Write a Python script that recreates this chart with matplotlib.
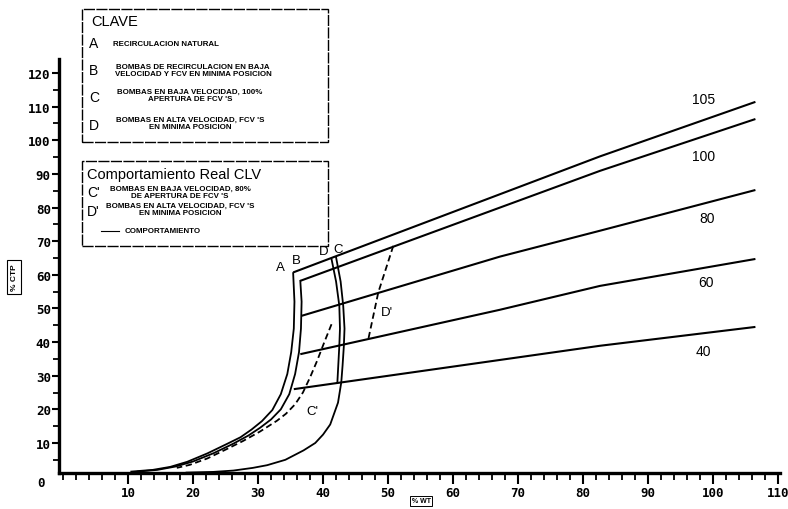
import numpy as np
import matplotlib
matplotlib.use("Agg")
import matplotlib.pyplot as plt
import matplotlib.patches as patches
from matplotlib.lines import Line2D

# rod lines (% rod line)
line_105_x = [35.4, 82.6, 106.5]
line_105_y = [60.7, 95.2, 111.4]
line_100_x = [36.5, 82.6, 106.5]
line_100_y = [58.2, 90.9, 106.3]
line_80_x = [36.7, 67.2, 82.6, 106.5]
line_80_y = [47.8, 65.4, 73.1, 85.2]
line_60_x = [36.5, 67.2, 82.6, 106.5]
line_60_y = [36.4, 49.6, 56.7, 64.7]
line_40_x = [35.5, 82.6, 106.5]
line_40_y = [26.0, 38.9, 44.5]
rod_labels = ["105", "100", "80", "60", "40"]
rod_label_x = [98.6, 98.5, 99.1, 98.9, 98.5]
rod_label_y = [112.4, 95.3, 76.9, 57.8, 37.3]

# boundary curves
curve_a_x = [35.4, 35.6, 35.5, 35.1, 34.5, 33.5, 32.2, 30.6, 29.0, 27.3, 25.2, 22.2, 19.1, 16.5, 13.8, 10.5]
curve_a_y = [60.5, 52.0, 44.0, 37.0, 30.5, 24.5, 19.8, 16.5, 14.0, 11.7, 9.7, 6.9, 4.4, 2.9, 2.0, 1.5]
curve_b_x = [36.5, 36.7, 36.6, 36.3, 35.7, 34.8, 33.5, 32.0, 30.3, 28.5, 26.2, 23.2, 20.0, 17.3, 14.5, 11.5]
curve_b_y = [58.2, 52.0, 44.0, 37.0, 30.5, 24.5, 20.0, 17.0, 14.5, 12.2, 9.8, 7.0, 4.5, 3.0, 2.0, 1.5]
curve_c_x = [42.0, 42.7, 43.1, 43.3, 43.2, 43.0, 42.8, 42.3, 41.1, 40.0, 38.8, 37.0, 34.2, 31.4, 29.2, 26.2, 23.1, 19.0]
curve_c_y = [65.2, 58.0, 50.8, 44.0, 38.9, 33.0, 28.0, 22.0, 15.5, 12.5, 10.0, 7.8, 5.0, 3.4, 2.6, 1.8, 1.4, 1.2]
curve_d_x = [41.3, 42.0, 42.5, 42.6, 42.5, 42.2]
curve_d_y = [64.7, 58.0, 50.8, 44.0, 38.9, 28.0]

# real behaviour (dashed)
curve_c2_x = [41.3, 40.2, 39.1, 38.0, 36.9, 35.7, 34.3, 32.9, 30.3, 27.7, 25.2, 22.2, 19.5, 17.5]
curve_c2_y = [45.3, 40.0, 34.5, 29.5, 25.0, 21.5, 18.7, 16.6, 13.4, 10.6, 8.2, 5.4, 3.5, 2.6]
curve_d2_x = [50.8, 48.5, 47.0]
curve_d2_y = [68.6, 54.8, 41.2]

curve_labels = ["A", "B", "D", "C", "C'", "D'"]
curve_label_x = [33.4, 35.9, 40.1, 42.3, 38.3, 49.9]
curve_label_y = [62.3, 64.3, 67.0, 67.6, 19.6, 48.8]

W, H = 788, 510
fig = plt.figure(figsize=(W / 100, H / 100), dpi=100)
ax = fig.add_axes([0.075, 0.0714, 0.915, 0.81])


def px(x, y):
    # pixel position (from top-left) -> figure fraction
    return x / W, 1 - y / H


for xs, ys in [(line_105_x, line_105_y), (line_100_x, line_100_y), (line_80_x, line_80_y),
               (line_60_x, line_60_y), (line_40_x, line_40_y)]:
    ax.plot(xs, ys, color="black", lw=1.5, solid_capstyle="butt")

for xs, ys in [(curve_a_x, curve_a_y), (curve_b_x, curve_b_y),
               (curve_c_x, curve_c_y), (curve_d_x, curve_d_y)]:
    ax.plot(xs, ys, color="black", lw=1.3, solid_joinstyle="round")

for xs, ys in [(curve_c2_x, curve_c2_y), (curve_d2_x, curve_d2_y)]:
    ax.plot(xs, ys, color="black", lw=1.3, ls=(0, (3.5, 2)))

for t, x, y in zip(rod_labels, rod_label_x, rod_label_y):
    ax.text(x, y, t, ha="center", va="center", fontsize=10, family="Liberation Sans")
for t, x, y in zip(curve_labels, curve_label_x, curve_label_y):
    ax.text(x, y, t, ha="center", va="center", fontsize=9.5, family="Liberation Sans")

ax.set_xlim(-0.6, 110.3)
ax.set_ylim(1.2, 124)
ax.set_xticks(np.arange(10, 111, 10))
ax.set_xticks(np.arange(0, 111, 2), minor=True)
ax.set_yticks(np.arange(10, 121, 10))
ax.set_yticks(np.arange(5, 121, 5), minor=True)
tick_font = dict(family="DejaVu Sans Mono", weight="bold", size=9)
ax.set_xticklabels([str(v) for v in range(10, 111, 10)], fontdict=tick_font)
ax.set_yticklabels([str(v) for v in range(10, 121, 10)], fontdict=tick_font)
ax.text(-2.8, -1.8, "0", ha="right", va="center", clip_on=False, **tick_font)
ax.tick_params(axis="x", which="major", length=8, width=1.5, pad=2, direction="out")
ax.tick_params(axis="x", which="minor", length=5, width=1.3, direction="out")
ax.tick_params(axis="y", which="major", length=5, width=1.5, pad=1, direction="out")
ax.tick_params(axis="y", which="minor", length=4, width=1.3, direction="out")
for s in ["top", "right"]:
    ax.spines[s].set_visible(False)
for s in ["left", "bottom"]:
    ax.spines[s].set_linewidth(2.4)

# axis labels in little boxes
fig.text(*px(421, 502), "% WT", ha="center", va="center", fontsize=5,
         family="Liberation Sans", weight="bold",
         bbox=dict(boxstyle="square,pad=0.25", fc="white", ec="black", lw=0.7))
fig.text(*px(14, 278), "% CTP", ha="center", va="center", fontsize=6, rotation=90,
         family="Liberation Sans", weight="bold",
         bbox=dict(boxstyle="square,pad=0.4", fc="white", ec="black", lw=0.8))

# legend boxes
dash = (0, (8, 1))
for (x0, y0, x1, y1) in [(82, 10, 328, 143), (82, 162, 328, 247)]:
    fx0, fy1 = px(x0, y0)
    fx1, fy0 = px(x1, y1)
    fig.add_artist(patches.Rectangle((fx0, fy0), fx1 - fx0, fy1 - fy0, transform=fig.transFigure,
                                     fill=False, ec="black", lw=1.0, ls=dash))

small = dict(fontsize=5.7, family="Liberation Sans", weight="bold", va="center", linespacing=0.9)
letter = dict(fontsize=10, family="Liberation Sans", va="center")
title = dict(fontsize=10.5, family="Liberation Sans", va="center")

fig.text(*px(91, 22), "CLAVE", **title)
fig.text(*px(89, 44), "A", **letter)
fig.text(*px(113, 44), "RECIRCULACION NATURAL", **small)
fig.text(*px(89, 71), "B", **letter)
fig.text(*px(193, 71), "BOMBAS DE RECIRCULACION EN BAJA\nVELOCIDAD Y FCV EN MINIMA POSICION",
         ha="center", **small)
fig.text(*px(89, 98), "C", **letter)
fig.text(*px(190, 96), "BOMBAS EN BAJA VELOCIDAD, 100%\nAPERTURA DE FCV 'S", ha="center", **small)
fig.text(*px(89, 126), "D", **letter)
fig.text(*px(190, 124), "BOMBAS EN ALTA VELOCIDAD, FCV 'S\nEN MINIMA POSICION", ha="center", **small)

fig.text(*px(87, 175), "Comportamiento Real CLV", **title)
fig.text(*px(87, 193), "C'", **letter)
fig.text(*px(180, 193), "BOMBAS EN BAJA VELOCIDAD, 80%\nDE APERTURA DE FCV 'S", ha="center", **small)
fig.text(*px(87, 212), "D'", **letter)
fig.text(*px(180, 210), "BOMBAS EN ALTA VELOCIDAD, FCV 'S\nEN MINIMA POSICION", ha="center", **small)
lx0, ly = px(101, 232)
lx1, _ = px(119, 232)
fig.add_artist(Line2D([lx0, lx1], [ly, ly], transform=fig.transFigure, color="black", lw=0.8))
fig.text(*px(125, 232), "COMPORTAMIENTO", **small)

fig.savefig("out.png", dpi=100)
